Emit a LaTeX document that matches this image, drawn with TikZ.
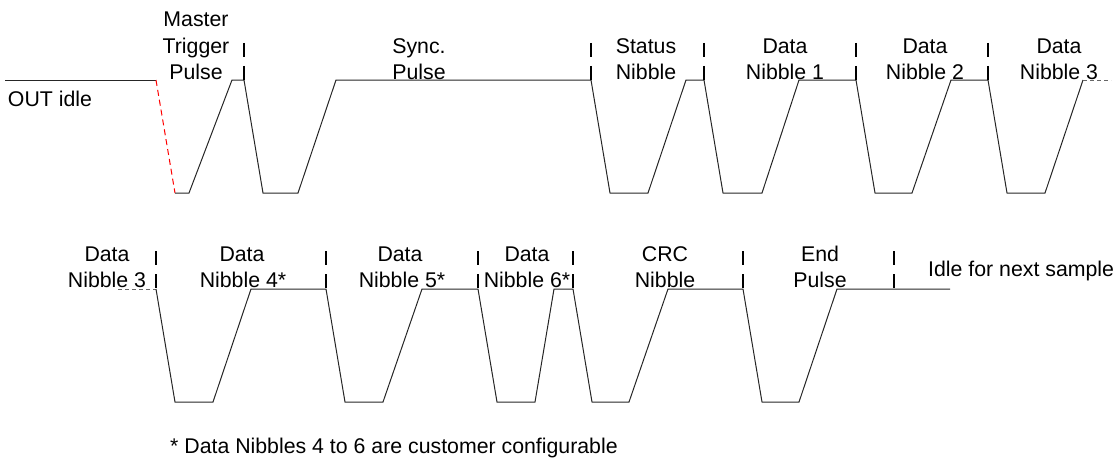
\documentclass[tikz,border=0pt]{standalone}
\usepackage{fontspec}
\setmainfont{Liberation Sans}
\begin{document}
\begin{tikzpicture}[x=1pt,y=-1pt,
  wave/.style={line width=1pt,black!85},
  lead/.style={line width=1pt,red,dash pattern=on 6pt off 4pt},
  cont/.style={line width=1pt,black!60,dash pattern=on 4pt off 3pt},
  tick/.style={line width=1.8pt,black,dash pattern=on 14pt off 9pt},
  lbl/.style={anchor=base,inner sep=0pt,font=\fontsize{21.3}{25}\selectfont}]
\useasboundingbox (0,0) rectangle (1113,460);

% ---------- top row ----------
\draw[wave] (5,80) -- (156,80);
\draw[lead] (156,80) -- (175,193);
\draw[wave] (175,193) -- (189,193) -- (232,80) -- (244,80) -- (263,193) -- (298,193)
  -- (336,80) -- (591,80) -- (610,193) -- (648,193) -- (686,80) -- (704,80)
  -- (723,193) -- (762,193) -- (799,80) -- (856,80) -- (875,193) -- (912,193)
  -- (951,80) -- (988,80) -- (1007,193) -- (1045,193) -- (1083,80);
\draw[cont] (1083,80) -- (1111,80);
\foreach \x in {244,591,704,856,988} \draw[tick] (\x,43) -- (\x,80);

\node[lbl] (idle) at (50,106) {OUT idle};
\node[lbl] (mt1) at (196,27) {Master};
\node[lbl] (mt2) at (196,53) {Trigger};
\node[lbl] (mt3) at (196,79) {Pulse};
\node[lbl] (sy1) at (419,54) {Sync.};
\node[lbl] (sy2) at (419,79) {Pulse};
\node[lbl] (st1) at (646,54) {Status};
\node[lbl] (st2) at (646,79) {Nibble};
\node[lbl] (d11) at (785,54) {Data};
\node[lbl] (d12) at (785,79) {Nibble 1};
\node[lbl] (d21) at (925,54) {Data};
\node[lbl] (d22) at (925,79) {Nibble 2};
\node[lbl] (d31) at (1059,54) {Data};
\node[lbl] (d32) at (1059,79) {Nibble 3};

% ---------- bottom row ----------
\draw[cont] (118,289) -- (156,289);
\draw[wave] (156,289) -- (175,402) -- (213,402) -- (251,289) -- (326,289) -- (345,402)
  -- (383,402) -- (422,289) -- (478,289) -- (497,402) -- (535,402) -- (554,289)
  -- (573,289) -- (592,402) -- (629,402) -- (668,289) -- (743,289) -- (762,402)
  -- (799,402) -- (837,289) -- (950,289);
\foreach \x in {156,326,478,573,743,894} \draw[tick] (\x,251) -- (\x,289);

\node[lbl] (b31) at (107,261) {Data};
\node[lbl] (b32) at (107,287) {Nibble 3};
\node[lbl] (b41) at (242,261) {Data};
\node[lbl] (b42) at (243,287) {Nibble 4*};
\node[lbl] (b51) at (400,261) {Data};
\node[lbl] (b52) at (402,287) {Nibble 5*};
\node[lbl] (b61) at (527,261) {Data};
\node[lbl] (b62) at (527,287) {Nibble 6*};
\node[lbl] (crc1) at (665,261) {CRC};
\node[lbl] (crc2) at (665,287) {Nibble};
\node[lbl] (end1) at (820,261) {End};
\node[lbl] (end2) at (820,287) {Pulse};
\node[lbl,anchor=base west] (nxt) at (928,276) {Idle for next sample};

\node[lbl,anchor=base west] (note) at (170,453) {* Data Nibbles 4 to 6 are customer configurable};
\end{tikzpicture}
\end{document}
